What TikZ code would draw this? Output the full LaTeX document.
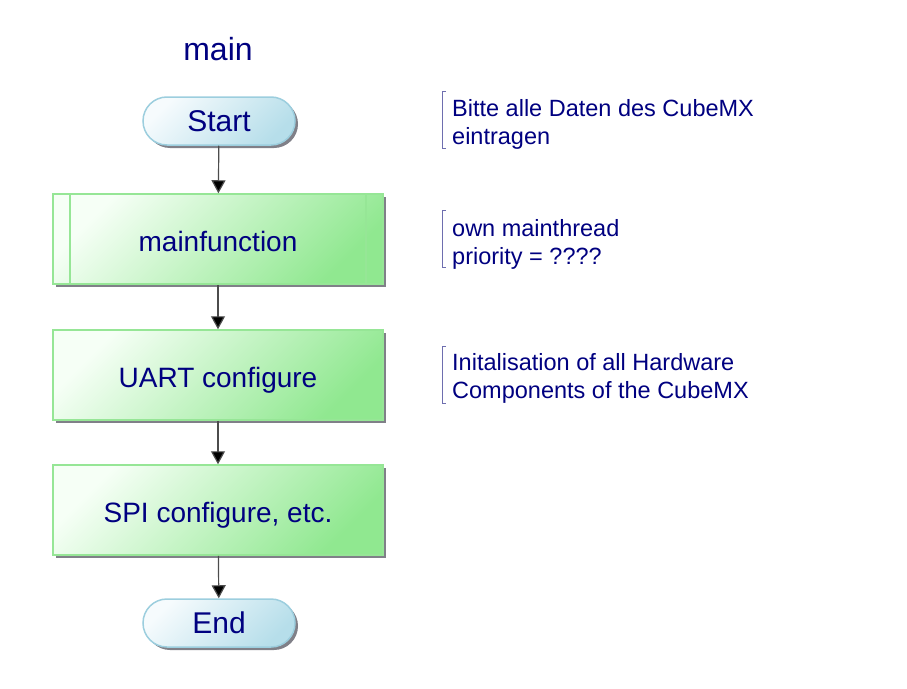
\documentclass[tikz,border=0pt]{standalone}
\usepackage{fontspec}
\setmainfont{Liberation Sans}
\usetikzlibrary{arrows.meta,shadows,calc}
\definecolor{txt}{RGB}{0,0,128}
\definecolor{gfill}{RGB}{144,232,144}
\definecolor{gtop}{RGB}{246,255,246}
\definecolor{gline}{RGB}{150,230,150}
\definecolor{bfill}{RGB}{182,222,234}
\definecolor{btop}{RGB}{246,251,253}
\definecolor{bline}{RGB}{156,206,222}
\definecolor{brk}{RGB}{110,110,175}
\definecolor{shd}{RGB}{128,128,136}
\tikzset{
  procbox/.style={draw=gline, line width=1.5pt, top color=gtop, bottom color=gfill, shading angle=45,
    minimum width=330pt, minimum height=90pt, inner sep=0pt, text=txt,
    text height=24pt, text depth=0pt,
    font=\fontsize{28}{32}\selectfont,
    drop shadow={shadow xshift=3pt, shadow yshift=-3pt, fill=shd, opacity=1}},
  termbox/.style={draw=bline, line width=1.5pt, top color=btop, bottom color=bfill, shading angle=45,
    rounded corners=24pt, minimum width=152pt, minimum height=48pt, inner sep=0pt, text=txt,
    font=\fontsize{30}{34}\selectfont,
    drop shadow={shadow xshift=3pt, shadow yshift=-3pt, fill=shd, opacity=1}},
  flow/.style={draw=black!70, line width=1.2pt, -{Triangle[length=13pt,width=14pt,fill=black]}},
  note/.style={anchor=west, inner sep=0pt, align=left, text=txt, font=\fontsize{23.5}{28}\selectfont},
  bracket/.style={draw=brk, line width=1pt}
}
\begin{document}
\begin{tikzpicture}[x=1pt,y=-1pt]
\useasboundingbox (0,0) rectangle (907,688);
\node[text=txt, font=\fontsize{32}{36}\selectfont, inner sep=0pt] (title) at (218,49) {main};
\node[termbox] (start) at (219,121) {Start};
\node[procbox] (mf) at (218,239) {mainfunction};
\draw[gline, line width=1.8pt] ($(mf.north west)+(18,0)$) -- ($(mf.south west)+(18,0)$);
\draw[gline, line width=1.8pt] ($(mf.north east)+(-18,0)$) -- ($(mf.south east)+(-18,0)$);
\node[procbox] (uart) at (218,375) {UART configure};
\node[procbox] (spi) at (218,510) {SPI configure, etc.};
\node[termbox] (end) at (219,623) {End};
\draw[flow] (start) -- (mf);
\draw[flow] (mf) -- (uart);
\draw[flow] (uart) -- (spi);
\draw[flow] (spi) -- (end);
\node[note] (n1) at (452,124) {Bitte alle Daten des CubeMX\\eintragen};
\node[note] (n2) at (452,244) {own mainthread\\priority = ????};
\node[note] (n3) at (452,378) {Initalisation of all Hardware\\Components of the CubeMX};
\foreach \n/\m in {n1/120,n2/239,n3/375}{
  \draw[bracket] (446,\m-28.5) -- (442.5,\m-28.5) -- (442.5,\m+28.5) -- (446,\m+28.5);
}
\end{tikzpicture}
\end{document}
